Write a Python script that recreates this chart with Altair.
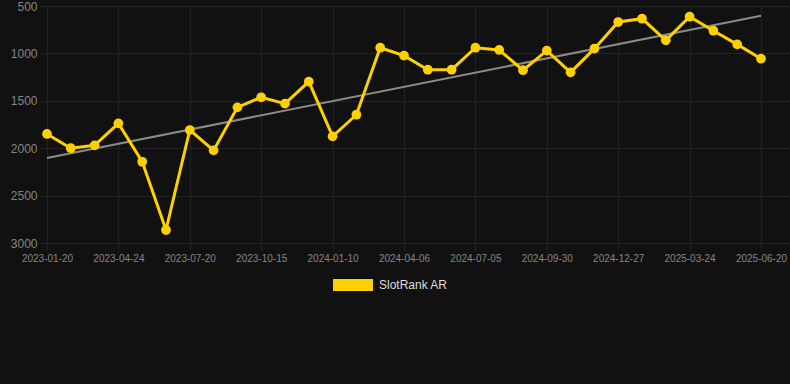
import altair as alt
import pandas as pd

dates = [
    "2023-01-20", "2023-02-22", "2023-03-23", "2023-04-24", "2023-05-23", "2023-06-21",
    "2023-07-20", "2023-08-18", "2023-09-16", "2023-10-15", "2023-11-13", "2023-12-12",
    "2024-01-10", "2024-02-08", "2024-03-08", "2024-04-06", "2024-05-06", "2024-06-05",
    "2024-07-05", "2024-08-03", "2024-09-01", "2024-09-30", "2024-10-29", "2024-11-28",
    "2024-12-27", "2025-01-25", "2025-02-23", "2025-03-24", "2025-04-22", "2025-05-22",
    "2025-06-20",
]
ranks = [
    1850, 2000, 1970, 1738, 2143, 2863,
    1808, 2023, 1569, 1463, 1530, 1298,
    1875, 1647, 940, 1024, 1172, 1172,
    940, 964, 1177, 971, 1200, 950,
    669, 634, 862, 613, 761, 905,
    1056,
]
label_step = 3
trend_dates = [dates[0], dates[-1]]
trend_values = [2104, 602]
y_ticks = [500, 1000, 1500, 2000, 2500, 3000]
series_name = "SlotRank AR"

df = pd.DataFrame({"date": dates, "rank": ranks, "series": series_name})
df["idx"] = range(len(dates))
trend_df = pd.DataFrame({"date": trend_dates, "rank": trend_values})
trend_df["idx"] = [dates.index(d) for d in trend_dates]

YELLOW = "#FFD000"
GRID = "#222222"
LABEL = "#858585"

n = len(dates)
x_scale = alt.Scale(domain=[0, (n - 1) * 743 / 714], nice=False, zero=False)
y_scale = alt.Scale(domain=[500, 3000], reverse=True, nice=False, zero=False)

label_list = "[" + ",".join("'" + d + "'" for d in dates) + "]"
x_axis = alt.Axis(values=list(range(0, n, label_step)), title=None, labelAngle=0,
                  grid=True, gridColor=GRID, tickColor=GRID, tickSize=7, domain=False,
                  labelColor=LABEL, labelFontSize=10, labelPadding=3,
                  labelFont="Liberation Sans", labelOverlap=False, labelFlush=False,
                  labelBound=False,
                  labelExpr=label_list + "[datum.value]")
y_axis = alt.Axis(values=y_ticks, title=None, grid=True, gridColor=GRID, format="d",
                  tickColor=GRID, tickSize=7, domain=False, labelColor=LABEL,
                  labelFontSize=12, labelPadding=3, labelFont="Liberation Sans",
                  labelOverlap=False, labelFlush=False)

color = alt.Color(
    "series:N",
    scale=alt.Scale(domain=[series_name], range=[YELLOW]),
    legend=alt.Legend(
        title=None, orient="none", legendX=286, legendY=259,
        symbolType="M-1,-0.3L1,-0.3L1,0.3L-1,0.3Z", symbolSize=1600,
        symbolFillColor=YELLOW, symbolStrokeWidth=0, symbolOpacity=1,
        labelColor="#dddddd", labelFontSize=12, labelFont="Liberation Sans",
        labelOffset=6,
    ),
)

enc = dict(
    x=alt.X("idx:Q", scale=x_scale, axis=x_axis),
    y=alt.Y("rank:Q", scale=y_scale, axis=y_axis),
)

trend = alt.Chart(trend_df).mark_line(color="#8a8a8a", strokeWidth=2).encode(**enc)
line = alt.Chart(df).mark_line(strokeWidth=3).encode(color=color, **enc)
points = alt.Chart(df).mark_point(filled=True, size=95, opacity=1).encode(color=color, **enc)

chart = alt.layer(trend, line, points).properties(
    width=743, height=237,
    background="#111111",
    autosize=alt.AutoSizeParams(type="none"),
    padding={"left": 47, "top": 6, "right": 0, "bottom": 141},
).configure_view(stroke=None)

chart.save("out.html", embed_options={"renderer": "svg", "actions": False})
